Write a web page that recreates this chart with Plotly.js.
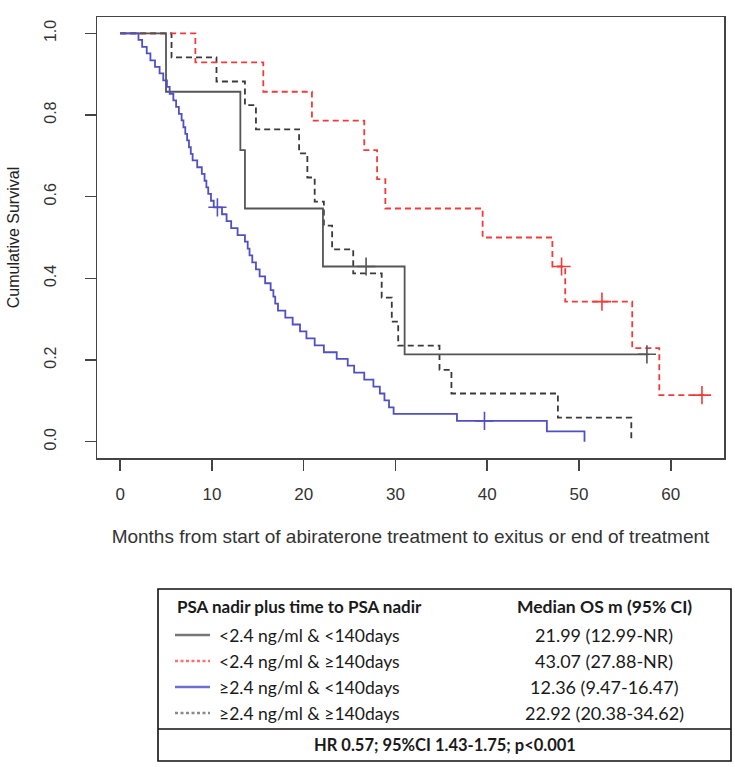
<!DOCTYPE html>
<html>
<head>
<meta charset="utf-8">
<script src="https://cdn.plot.ly/plotly-3.0.1.min.js"></script>
<style>html,body{margin:0;padding:0;background:#fff;}#chart{width:735px;height:767px;}</style>
</head>
<body>
<div id="chart"></div>
<script>
// ---------- data ----------
const groupLabels = ['<2.4 ng/ml & <140days', '<2.4 ng/ml & ≥140days', '≥2.4 ng/ml & <140days', '≥2.4 ng/ml & ≥140days'];
const medianOS = ['21.99 (12.99-NR)', '43.07 (27.88-NR)', '12.36 (9.47-16.47)', '22.92 (20.38-34.62)'];
const headerLeft = 'PSA nadir plus time to PSA nadir';
const headerRight = 'Median OS m (95% CI)';
const hrText = 'HR 0.57; 95%CI 1.43-1.75; p<0.001';
const xTitle = 'Months from start of abiraterone treatment to exitus or end of treatment';
const yTitle = 'Cumulative Survival';
const xTicks = [0, 10, 20, 30, 40, 50, 60];
const yTicks = [0, 0.2, 0.4, 0.6, 0.8, 1.0];
const yTickText = ['0.0', '0.2', '0.4', '0.6', '0.8', '1.0'];

// group 1: <2.4 & <140 days (gray solid)
const g1Time = [0, 5.0, 13.1, 13.6, 22.1, 31.0, 57.6];
const g1Surv = [1, 0.857, 0.714, 0.571, 0.429, 0.214, 0.214];
const g1CensT = [26.8, 57.4];
const g1CensS = [0.429, 0.214];

// group 2: <2.4 & >=140 days (red dashed)
const g2Time = [0, 8.2, 15.6, 20.9, 26.6, 28.0, 28.9, 39.5, 47.1, 48.5, 55.8, 58.75, 63.6];
const g2Surv = [1, 0.929, 0.857, 0.786, 0.714, 0.643, 0.571, 0.5, 0.429, 0.343, 0.229, 0.114, 0.114];
const g2CensT = [48.1, 52.5, 63.4];
const g2CensS = [0.429, 0.343, 0.114];

// group 3: >=2.4 & <140 days (blue solid)
const g3Time = [0, 2.0, 2.4, 2.9, 3.3, 3.8, 4.3, 4.7, 5.1, 5.4, 5.8, 6.1, 6.4, 6.7, 6.9, 7.1, 7.3, 7.5, 7.7, 7.9, 8.4, 8.9, 9.2, 9.4, 9.6, 9.9, 10.2,
  11.1, 11.6, 12.1, 12.8, 13.6, 13.9, 14.1, 14.4, 14.8, 15.2, 15.8, 16.4, 16.7, 16.9, 17.2, 18.0, 18.8, 19.6, 20.3, 21.2, 22.2, 23.6, 24.8, 25.5, 26.6, 27.6, 28.3, 28.8, 29.3, 29.8,
  36.7, 46.5, 50.6];
const g3Surv = [1, 0.984, 0.967, 0.951, 0.934, 0.918, 0.902, 0.885, 0.869, 0.852, 0.836, 0.820, 0.803, 0.787, 0.770, 0.754, 0.738, 0.721, 0.705, 0.689, 0.672, 0.656, 0.639, 0.623, 0.607, 0.590, 0.574,
  0.557, 0.540, 0.523, 0.506, 0.490, 0.473, 0.456, 0.439, 0.422, 0.405, 0.388, 0.371, 0.355, 0.338, 0.321, 0.304, 0.287, 0.270, 0.253, 0.236, 0.219, 0.203, 0.186, 0.169, 0.152, 0.135, 0.118, 0.101, 0.084, 0.068,
  0.051, 0.025, 0];
const g3CensT = [10.6, 39.7];
const g3CensS = [0.574, 0.051];

// group 4: >=2.4 & >=140 days (dark gray dashed)
const g4Time = [0, 5.6, 10.5, 13.6, 14.8, 19.5, 20.4, 21.2, 22.2, 23.1, 25.4, 28.5, 29.6, 30.3, 34.8, 36.1, 47.7, 55.7];
const g4Surv = [1, 0.941, 0.882, 0.824, 0.765, 0.706, 0.647, 0.588, 0.529, 0.471, 0.412, 0.353, 0.294, 0.235, 0.176, 0.118, 0.059, 0];

// ---------- styles ----------
const colors = ['#555555', '#f23a3a', '#5050c4', '#3a3a3a'];
const dashes = ['solid', '6px,4px', 'solid', '6px,4px'];
const legendColors = ['#777777', '#ff6f6f', '#6f6fcf', '#8a8a8a'];
const legendDash = ['solid', '3px,2.5px', 'solid', '3px,2.5px'];

function stepTrace(t, s, i) {
  return {x: t, y: s, type: 'scatter', mode: 'lines', line: {shape: 'hv', color: colors[i], width: 1.8, dash: dashes[i]}, hoverinfo: 'skip', showlegend: false};
}
function censTrace(t, s, i) {
  return {x: t, y: s, type: 'scatter', mode: 'markers', marker: {symbol: 'cross-thin', size: 13, color: colors[i], line: {color: colors[i], width: 1.6}}, hoverinfo: 'skip', showlegend: false};
}

const data = [
  stepTrace(g4Time, g4Surv, 3),
  stepTrace(g2Time, g2Surv, 1),
  stepTrace(g1Time, g1Surv, 0),
  stepTrace(g3Time, g3Surv, 2),
  censTrace(g1CensT, g1CensS, 0),
  censTrace(g2CensT, g2CensS, 1),
  censTrace(g3CensT, g3CensS, 2)
];

// ---------- layout geometry (pixels -> paper) ----------
const W = 735, H = 767, L = 97, R = 11, T = 17, B = 309;
const pw = W - L - R, ph = H - T - B;
const px = x => (x - L) / pw;
const py = y => (H - B - y) / ph;
const esc = s => s.replace(/&/g, '&amp;').replace(/</g, '&lt;').replace(/>/g, '&gt;');

const tFam = 'Lato, Noto Sans, sans-serif';
const hFont = {family: tFam, size: 17, color: '#1a1a1a'};
const rFont = {family: tFam, size: 18, color: '#1a1a1a'};
const shapes = [
  {type: 'rect', xref: 'paper', yref: 'paper', x0: px(158), x1: px(731), y0: py(761), y1: py(589), line: {color: '#111', width: 1.6}},
  {type: 'line', xref: 'paper', yref: 'paper', x0: px(158), x1: px(731), y0: py(729), y1: py(729), line: {color: '#111', width: 1.6}}
];
const annotations = [
  {xref: 'paper', yref: 'paper', x: px(175), y: py(606), xanchor: 'left', yanchor: 'middle', showarrow: false, text: '<b>' + esc(headerLeft) + '</b>', font: hFont},
  {xref: 'paper', yref: 'paper', x: px(604), y: py(606), xanchor: 'center', yanchor: 'middle', showarrow: false, text: '<b>' + esc(headerRight) + '</b>', font: Object.assign({}, hFont, {size: 17.5})},
  {xref: 'paper', yref: 'paper', x: px(445), y: py(745), xanchor: 'center', yanchor: 'middle', showarrow: false, text: '<b>' + esc(hrText) + '</b>', font: Object.assign({}, hFont, {size: 16.5})}
];
const rowY = [635, 661, 687, 713];
groupLabels.forEach((lab, i) => {
  shapes.push({type: 'line', xref: 'paper', yref: 'paper', x0: px(175), x1: px(210), y0: py(rowY[i]), y1: py(rowY[i]), line: {color: legendColors[i], width: 2.4, dash: legendDash[i]}});
  annotations.push({xref: 'paper', yref: 'paper', x: px(217), y: py(rowY[i]), xanchor: 'left', yanchor: 'middle', showarrow: false, text: esc(lab), font: Object.assign({}, rFont, {size: 17.5})});
  annotations.push({xref: 'paper', yref: 'paper', x: px(604), y: py(rowY[i]), xanchor: 'center', yanchor: 'middle', showarrow: false, text: esc(medianOS[i]), font: rFont});
});

const axFont = {family: 'Liberation Sans, Arial, sans-serif', size: 16, color: '#333'};
const layout = {
  width: W, height: H,
  margin: {l: L, r: R, t: T, b: B, pad: 0},
  paper_bgcolor: '#fff', plot_bgcolor: '#fff',
  showlegend: false,
  xaxis: {
    range: [-2.52, 65.8], tickvals: xTicks, ticks: 'outside', ticklen: 11, tickwidth: 1.5, tickcolor: '#444',
    showline: true, mirror: true, linecolor: '#444', linewidth: 1.5, showgrid: false, zeroline: false,
    tickfont: Object.assign({}, axFont, {size: 17}), ticklabelstandoff: 9,
    title: {text: xTitle, font: Object.assign({}, axFont, {size: 19}), standoff: 27}
  },
  yaxis: {
    range: [-0.04, 1.04], tickvals: yTicks, ticktext: yTickText, ticks: 'outside', ticklen: 11, tickwidth: 1.5, tickcolor: '#444',
    showline: true, mirror: true, linecolor: '#444', linewidth: 1.5, showgrid: false, zeroline: false,
    tickangle: -90, tickfont: axFont, ticklabelstandoff: 22,
    title: {text: yTitle, font: Object.assign({}, axFont, {color: '#222'}), standoff: 18}
  },
  shapes: shapes,
  annotations: annotations
};

Plotly.newPlot('chart', data, layout, {displayModeBar: false, staticPlot: true});
</script>
</body>
</html>
